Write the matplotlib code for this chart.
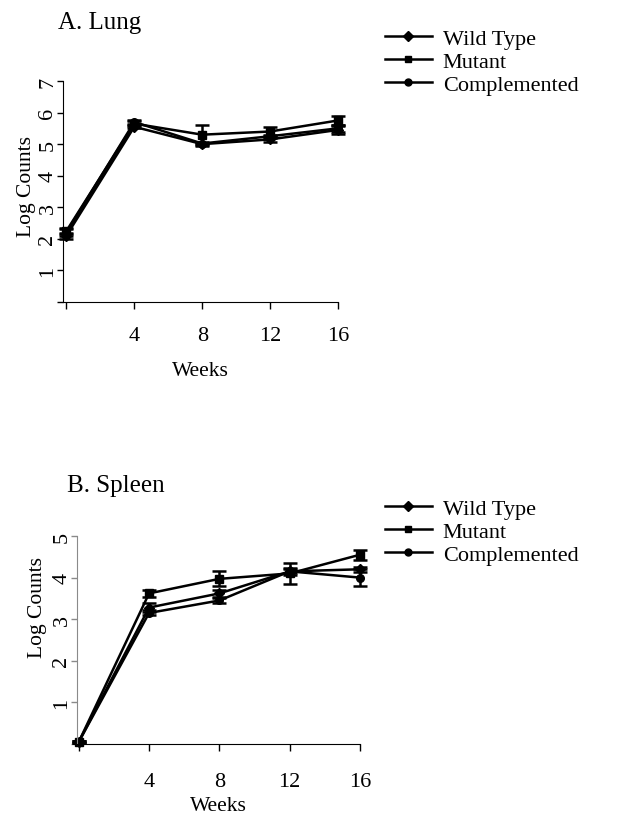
import numpy as np
import matplotlib as mpl
mpl.use('Agg')
import matplotlib.pyplot as plt
from matplotlib.lines import Line2D

plt.rcParams['font.family'] = ['Liberation Serif', 'DejaVu Serif']

weeks = [0, 4, 8, 12, 16]
series = ['Wild Type', 'Mutant', 'Complemented']
markers = ['D', 's', 'o']

# A. Lung
lung_wt = [2.1, 5.55, 5.0, 5.15, 5.45]
lung_mut = [2.25, 5.65, 5.3, 5.4, 5.75]
lung_comp = [2.2, 5.7, 5.02, 5.25, 5.5]
lung_wt_err = [0.1, 0.05, 0.05, 0.08, 0.12]
lung_mut_err = [0.1, 0.08, 0.3, 0.15, 0.15]
lung_comp_err = [0.1, 0.05, 0.05, 0.05, 0.1]

# B. Spleen
spl_wt = [0.05, 3.28, 3.62, 4.15, 4.2]
spl_mut = [0.05, 3.62, 3.97, 4.1, 4.55]
spl_comp = [0.05, 3.15, 3.45, 4.15, 4.0]
spl_wt_err = [0.02, 0.1, 0.08, 0.05, 0.06]
spl_mut_err = [0.02, 0.08, 0.18, 0.25, 0.12]
spl_comp_err = [0.02, 0.06, 0.05, 0.08, 0.2]

fig = plt.figure(figsize=(6.32, 8.2), dpi=100)


def panel(rect, data, errs, ymax, xmin, spine_col):
    ax = fig.add_axes(rect)
    for vals, err, m in zip(data, errs, markers):
        ms = 5 if m == 'D' else 5.5
        ax.errorbar(weeks, vals, yerr=err, color='black', marker=m, ms=ms,
                    lw=1.8, elinewidth=1.8, capsize=5, capthick=1.8,
                    clip_on=False)
    ax.set_xlim(xmin, 16)
    ax.set_ylim(0, ymax)
    ax.spines['top'].set_visible(False)
    ax.spines['right'].set_visible(False)
    ax.spines['left'].set_color(spine_col)
    ax.set_xticks([0, 4, 8, 12, 16])
    ax.set_xticklabels(['', '4', '8', '12', '16'], fontsize=16)
    ax.set_yticks(range(0, ymax + 1))
    ax.set_yticklabels([''] + [str(i) for i in range(1, ymax + 1)],
                       fontsize=16, rotation=90, va='center')
    ax.tick_params(axis='x', length=5, width=1, pad=12)
    ax.tick_params(axis='y', length=4, width=1, pad=0, colors=spine_col,
                   labelcolor='black')
    ax.set_xlabel('Weeks', fontsize=15.5, labelpad=12)
    ax.set_ylabel('Log Counts', fontsize=15.5)
    return ax


ax1 = panel([63 / 632, 1 - 303 / 820, 275 / 632, 221 / 820],
            [lung_wt, lung_mut, lung_comp],
            [lung_wt_err, lung_mut_err, lung_comp_err], 7, -0.2, 'black')
ax1.yaxis.set_label_coords(-0.10, 0.525)

ax2 = panel([77 / 632, 1 - 745 / 820, 283 / 632, 208 / 820],
            [spl_wt, spl_mut, spl_comp],
            [spl_wt_err, spl_mut_err, spl_comp_err], 5, -0.1, '#8a8a8a')
ax2.yaxis.set_label_coords(-0.105, 0.66)
ax2.tick_params(axis='x', pad=15)
ax2.xaxis.labelpad = 4

fig.text(58 / 632, 1 - 23 / 820, 'A. Lung', fontsize=18, va='center')
fig.text(67 / 632, 1 - 486 / 820, 'B. Spleen', fontsize=18, va='center')

handles = [Line2D([], [], color='black', lw=1.8, marker=m, ms=5)
           for m in markers]
for ytop in [1 - 29 / 820, 1 - 499 / 820]:
    fig.legend(handles, series, loc='upper left',
               bbox_to_anchor=(385 / 632, ytop), frameon=False,
               fontsize=16, handlelength=2.1, handletextpad=0.5,
               labelspacing=0.12, borderpad=0, borderaxespad=0)

fig.savefig('out.png', dpi=100)
